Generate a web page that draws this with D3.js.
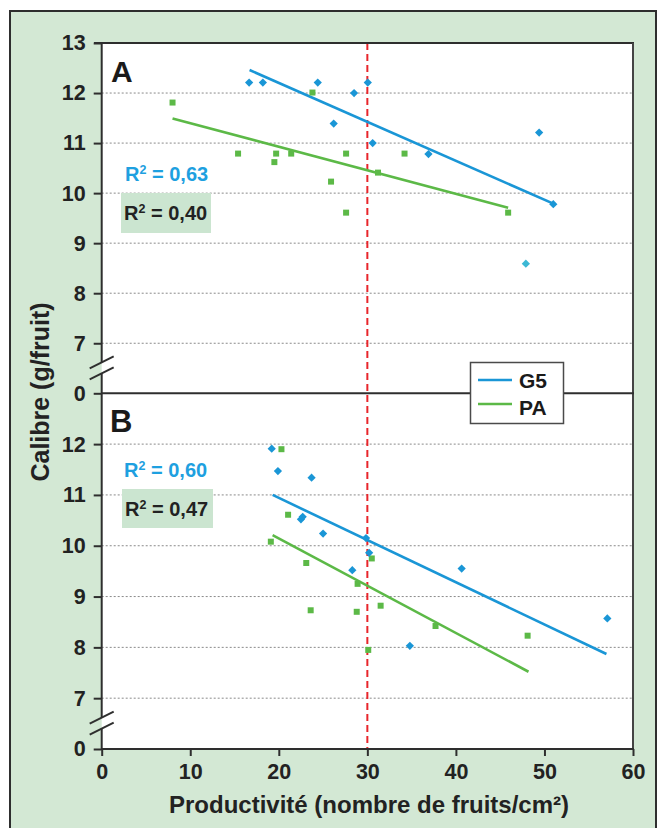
<!DOCTYPE html>
<html><head><meta charset="utf-8">
<script src="https://cdn.jsdelivr.net/npm/d3@7"></script>
<style>
html,body{margin:0;padding:0;background:#fff;}
text{font-family:"Liberation Sans",Arial,Helvetica,sans-serif;font-weight:bold;}
</style></head>
<body>
<script>
// ---------- data ----------
const xTickValues = [0, 10, 20, 30, 40, 50, 60];
const yTickValuesA = [6, 7, 8, 9, 10, 11, 12, 13];
const yTickLabelsA = ["0", "7", "8", "9", "10", "11", "12", "13"];
const yTickValuesB = [6, 7, 8, 9, 10, 11, 12];
const yTickLabelsB = ["0", "7", "8", "9", "10", "11", "12"];
const gridValues = [7, 8, 9, 10, 11, 12];
const threshold = 30;

// Panel A
const g5A_x = [16.65, 18.2, 24.4, 30.05, 28.5, 26.2, 30.6, 36.9, 49.4, 51.0];
const g5A_y = [12.21, 12.21, 12.21, 12.21, 12.0, 11.39, 11.0, 10.78, 11.21, 9.78];
const g5A_outlier = [47.9, 8.59];
const paA_x = [8.0, 15.4, 19.7, 19.5, 21.4, 23.8, 25.9, 27.6, 27.6, 31.2, 34.2, 45.9];
const paA_y = [11.81, 10.79, 10.79, 10.62, 10.79, 12.01, 10.23, 10.79, 9.61, 10.41, 10.79, 9.61];
const trendA_G5 = [[16.7, 12.46], [51.0, 9.79]];
const trendA_PA = [[8.0, 11.49], [45.9, 9.71]];
const r2A = ["0,63", "0,40"];

// Panel B
const g5B_x = [19.2, 19.9, 23.7, 22.5, 22.7, 25.0, 28.3, 29.85, 30.2, 34.8, 40.65, 57.1];
const g5B_y = [11.91, 11.47, 11.34, 10.52, 10.57, 10.24, 9.52, 10.15, 9.86, 8.03, 9.55, 8.57];
const paB_x = [20.3, 19.1, 21.05, 23.1, 23.6, 28.8, 28.9, 30.5, 31.5, 37.7, 30.1, 48.1];
const paB_y = [11.90, 10.08, 10.61, 9.66, 8.73, 8.70, 9.25, 9.75, 8.82, 8.42, 7.95, 8.23];
const trendB_G5 = [[19.3, 11.0], [57.0, 7.87]];
const trendB_PA = [[19.3, 10.21], [48.2, 7.52]];
const r2B = ["0,60", "0,47"];

const seriesNames = ["G5", "PA"];
const xTitle = "Productivité (nombre de fruits/cm²)";
const yTitle = "Calibre (g/fruit)";

// ---------- style ----------
const W = 657, H = 828;
const BLUE = "#1a96d6", GREEN = "#5cb947", BLUE_TXT = "#1ea0e0", RED = "#e8252b";
const BG = "#d3e8d4", DARK = "#2e2e2e";

const svg = d3.select("body").append("svg").attr("width", W).attr("height", H);

// outer frame
svg.append("rect").attr("x", 10).attr("y", 11).attr("width", 646).attr("height", 830)
  .attr("fill", BG).attr("stroke", DARK).attr("stroke-width", 2);

const L = 101.7, R = 633, T = 43, M = 393.3, B = 749;
const x = d3.scaleLinear().domain([0, 60]).range([L, R]);
const yA = d3.scaleLinear().domain([6, 13]).range([M, T]);
const yB = d3.scaleLinear().domain([6, 13]).range([B, M]);

svg.append("rect").attr("x", L).attr("y", T).attr("width", R - L).attr("height", B - T).attr("fill", "#fff");

// gridlines
[yA, yB].forEach(y => {
  svg.append("g").selectAll("line").data(gridValues).join("line")
    .attr("x1", L).attr("x2", R).attr("y1", d => y(d)).attr("y2", d => y(d))
    .attr("stroke", "#8a8a8a").attr("stroke-width", 1).attr("stroke-dasharray", "2,2");
});

// threshold line
svg.append("line").attr("x1", x(threshold)).attr("x2", x(threshold)).attr("y1", T).attr("y2", B)
  .attr("stroke", RED).attr("stroke-width", 2).attr("stroke-dasharray", "7,4");

// borders
svg.append("line").attr("x1", 94).attr("x2", R + 1).attr("y1", T).attr("y2", T).attr("stroke", DARK).attr("stroke-width", 2);
svg.append("line").attr("x1", R).attr("x2", R).attr("y1", T).attr("y2", B).attr("stroke", "#444").attr("stroke-width", 2);
svg.append("line").attr("x1", L).attr("x2", R + 1).attr("y1", M).attr("y2", M).attr("stroke", DARK).attr("stroke-width", 2);
svg.append("line").attr("x1", L).attr("x2", R + 1).attr("y1", B).attr("y2", B).attr("stroke", DARK).attr("stroke-width", 2);

// left axis with breaks
const breaksA = [yA(6.5) - 6, yA(6.5) + 5];
const breaksB = [yB(6.5) - 6, yB(6.5) + 5];
const axisSegs = [[T, breaksA[0]], [breaksA[1], breaksB[0]], [breaksB[1], B + 1]];
svg.append("g").selectAll("line").data(axisSegs).join("line")
  .attr("x1", L).attr("x2", L).attr("y1", d => d[0]).attr("y2", d => d[1])
  .attr("stroke", DARK).attr("stroke-width", 2);
[breaksA, breaksB].forEach(b => {
  const c = (b[0] + b[1]) / 2;
  [-5.5, 5.5].forEach(o => {
    svg.append("line").attr("x1", L - 12).attr("x2", L + 12)
      .attr("y1", c + o + 6).attr("y2", c + o - 6)
      .attr("stroke", DARK).attr("stroke-width", 2);
  });
});

// axes
function styleAxis(g) {
  g.select(".domain").remove();
  g.selectAll(".tick line").attr("stroke", DARK).attr("stroke-width", 2);
  g.selectAll(".tick text").attr("fill", "#222").style("font-size", "21.5px")
    .style("font-family", '"Liberation Sans",Arial,sans-serif').style("font-weight", "bold");
}
svg.append("g").attr("transform", `translate(${L},0)`)
  .call(d3.axisLeft(yA).tickValues(yTickValuesA).tickFormat((d, i) => yTickLabelsA[i]).tickSize(8).tickPadding(8))
  .call(styleAxis);
svg.append("g").attr("transform", `translate(${L},0)`)
  .call(d3.axisLeft(yB).tickValues(yTickValuesB).tickFormat((d, i) => yTickLabelsB[i]).tickSize(8).tickPadding(8))
  .call(styleAxis);
svg.append("g").attr("transform", `translate(0,${B})`)
  .call(d3.axisBottom(x).tickValues(xTickValues).tickFormat(d3.format("d")).tickSize(7).tickPadding(8))
  .call(styleAxis);

// trend lines
const line = d3.line().x(d => d[0]).y(d => d[1]);
function trend(pts, y, color) {
  svg.append("path").attr("d", line(pts.map(p => [x(p[0]), y(p[1])])))
    .attr("fill", "none").attr("stroke", color).attr("stroke-width", 2.6);
}
trend(trendA_G5, yA, BLUE); trend(trendA_PA, yA, GREEN);
trend(trendB_G5, yB, BLUE); trend(trendB_PA, yB, GREEN);

// points
const diamond = d3.symbol(d3.symbolSquare, 34)();
const square = d3.symbol(d3.symbolSquare, 36)();
function pts(xs, ys, y, kind, color) {
  svg.append("g").selectAll("path").data(xs.map((v, i) => [v, ys[i]])).join("path")
    .attr("d", kind === "d" ? diamond : square)
    .attr("transform", d => `translate(${x(d[0])},${y(d[1])})` + (kind === "d" ? " rotate(45)" : ""))
    .attr("fill", color);
}
pts(paA_x, paA_y, yA, "s", GREEN);
pts(g5A_x, g5A_y, yA, "d", BLUE);
pts([g5A_outlier[0]], [g5A_outlier[1]], yA, "d", "#3cb8d4");
pts(paB_x, paB_y, yB, "s", GREEN);
pts(g5B_x, g5B_y, yB, "d", BLUE);

// panel letters
svg.append("text").attr("x", 111).attr("y", 82).style("font-size", "30px").attr("fill", "#1a1a1a").text("A");
svg.append("text").attr("x", 110).attr("y", 432).style("font-size", "31px").attr("fill", "#1a1a1a").text("B");

// R² labels
function r2(xp, yp, val, color, box) {
  if (box) svg.append("rect").attr("x", box[0]).attr("y", box[1]).attr("width", box[2]).attr("height", box[3]).attr("fill", "#cbe5d0");
  const t = svg.append("text").attr("x", xp).attr("y", yp).attr("fill", color).style("font-size", "20px");
  t.append("tspan").text("R");
  t.append("tspan").attr("dy", -7).style("font-size", "12.5px").text("2");
  t.append("tspan").attr("dy", 7).text(" = " + val);
}
r2(125, 181, r2A[0], BLUE_TXT, null);
r2(124, 220, r2A[1], "#222", [121, 193, 90, 40]);
r2(124, 477, r2B[0], BLUE_TXT, null);
r2(125, 516, r2B[1], "#222", [122, 489, 91, 39]);

// legend
const lg = svg.append("g");
lg.append("rect").attr("x", 470.5).attr("y", 362.5).attr("width", 93).attr("height", 61)
  .attr("fill", "#fff").attr("stroke", "#4a4a4a").attr("stroke-width", 1.5);
[[BLUE, 380, 388], [GREEN, 404, 415]].forEach((c, i) => {
  lg.append("line").attr("x1", 478).attr("x2", 512).attr("y1", c[1]).attr("y2", c[1]).attr("stroke", c[0]).attr("stroke-width", 2.6);
  lg.append("text").attr("x", 519).attr("y", c[2]).style("font-size", "21px").attr("fill", "#1a1a1a").text(seriesNames[i]);
});

// titles
svg.append("text").attr("x", 369).attr("y", 813).attr("text-anchor", "middle").style("font-size", "24px")
  .attr("fill", "#222").text(xTitle);
svg.append("text").attr("transform", "translate(49,392) rotate(-90)").attr("text-anchor", "middle")
  .style("font-size", "25px").attr("fill", "#222").text(yTitle);
</script>
</body></html>
